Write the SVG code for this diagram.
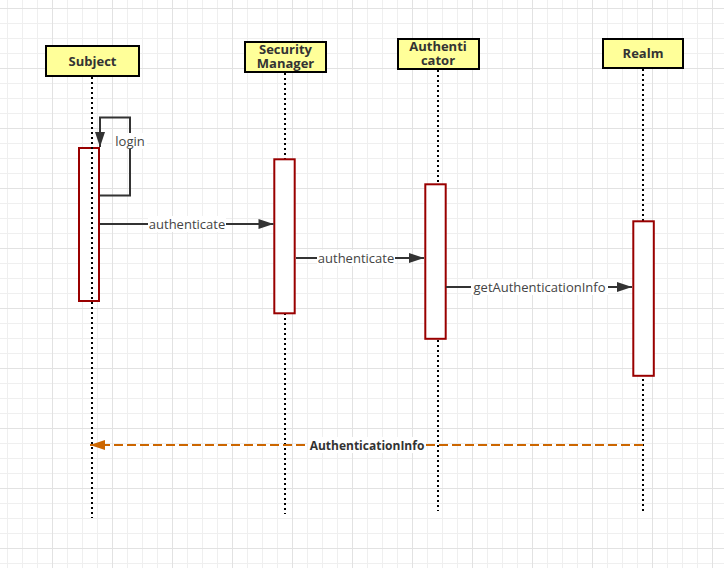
<svg xmlns="http://www.w3.org/2000/svg" width="724" height="568" viewBox="0 0 724 568">
<defs>
<pattern id="grid" x="52" y="8" width="60" height="60" patternUnits="userSpaceOnUse">
<path d="M15.5,0V60M30.5,0V60M45.5,0V60M0,15.5H60M0,30.5H60M0,45.5H60" stroke="#efefef" stroke-width="1" fill="none"/>
<path d="M0.5,0V60M0,0.5H60" stroke="#e2e2e2" stroke-width="1" fill="none"/>
</pattern>
<marker id="arr" markerUnits="userSpaceOnUse" markerWidth="15" markerHeight="10" refX="15" refY="5" orient="auto" overflow="visible">
<path d="M0,0L15,5L0,10z" fill="#333"/>
</marker>
<marker id="arrO" markerUnits="userSpaceOnUse" markerWidth="15" markerHeight="10" refX="15" refY="5" orient="auto" overflow="visible">
<path d="M0,0L15,5L0,10z" fill="#cc6600"/>
</marker>
<style>
.node rect{fill:#ffff99;stroke:#000;stroke-width:2}
.node text{font-family:"Open Sans","Noto Sans",sans-serif;font-weight:bold;font-size:13px;fill:#333;text-anchor:middle}
.life{stroke:#000;stroke-width:2;stroke-dasharray:2 3;fill:none}
.act{fill:#fff;stroke:#990000;stroke-width:2}
.msg{stroke:#333;stroke-width:2;fill:none;marker-end:url(#arr)}
.ret{stroke:#cc6600;stroke-width:2;fill:none;stroke-dasharray:9 4;marker-end:url(#arrO)}
.lbl{font-family:"Open Sans","Noto Sans",sans-serif;font-size:13px;fill:#444;text-anchor:middle}
.lblb{font-family:"Open Sans","Noto Sans",sans-serif;font-size:12px;font-weight:bold;fill:#333;text-anchor:middle}
.bg{fill:#fff}
</style>
</defs>
<rect width="724" height="568" fill="#fff"/>
<rect width="724" height="568" fill="url(#grid)"/>

<g id="lifelines">
<line class="life" x1="285" y1="73" x2="285" y2="514"/>
<line class="life" x1="438" y1="70" x2="438" y2="511"/>
<line class="life" x1="643" y1="69" x2="643" y2="511"/>
</g>

<g id="activations">
<rect class="act" x="79" y="148" width="20" height="153"/>
<rect class="act" x="274.3" y="159.3" width="20.4" height="154"/>
<rect class="act" x="425.3" y="184.3" width="20.4" height="154.5"/>
<rect class="act" x="633.3" y="221.3" width="20.5" height="154.5"/>
</g>

<g id="subject-lifeline">
<line class="life" x1="92" y1="77" x2="92" y2="518"/>
</g>

<g id="Subject" class="node">
<rect x="46" y="46" width="93" height="30"/>
<text x="92.5" y="65.5">Subject</text>
</g>
<g id="SecurityManager" class="node">
<rect x="245" y="42" width="81" height="30"/>
<text x="285.5" y="54">Security</text>
<text x="285.5" y="67.5">Manager</text>
</g>
<g id="Authenticator" class="node">
<rect x="398" y="39" width="81" height="30"/>
<text x="438" y="51">Authenti</text>
<text x="438" y="65">cator</text>
</g>
<g id="Realm" class="node">
<rect x="603" y="39" width="80" height="29"/>
<text x="643" y="58">Realm</text>
</g>

<g id="connectors">
<path class="msg" d="M100,195.5H130V117.5H100V147"/>
<rect class="bg" x="113" y="133" width="34" height="16"/>
<text class="lbl" x="130" y="146">login</text>

<path class="msg" d="M100,224H273.5"/>
<rect class="bg" x="148" y="216" width="78" height="16"/>
<text class="lbl" x="187" y="228.5">authenticate</text>

<path class="msg" d="M296,258H424"/>
<rect class="bg" x="317" y="250" width="78" height="16"/>
<text class="lbl" x="356" y="262.5">authenticate</text>

<path class="msg" d="M446,287H632"/>
<rect class="bg" x="471" y="279" width="137" height="16"/>
<text class="lbl" x="539.5" y="291.5">getAuthenticationInfo</text>

<path class="ret" d="M643,445H90"/>
<rect class="bg" x="308" y="437" width="118" height="16"/>
<text class="lblb" x="367" y="449.5">AuthenticationInfo</text>
</g>
</svg>
